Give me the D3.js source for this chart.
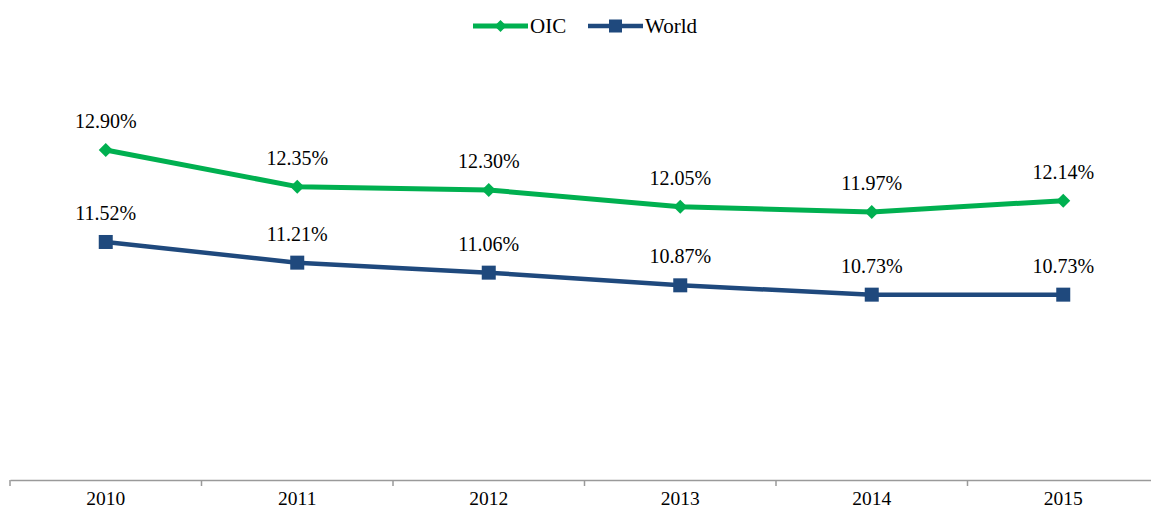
<!DOCTYPE html>
<html><head><meta charset="utf-8">
<script src="https://cdn.jsdelivr.net/npm/d3@7"></script>
<style>body{margin:0;background:#fff}svg{display:block}</style>
</head><body>
<svg id="c" width="1151" height="510"></svg>
<script>
const years = ["2010","2011","2012","2013","2014","2015"];
const oic = [12.90, 12.35, 12.30, 12.05, 11.97, 12.14];
const world = [11.52, 11.21, 11.06, 10.87, 10.73, 10.73];
const seriesNames = ["OIC","World"];

const svg = d3.select("#c");
const font = "'Liberation Serif', 'Times New Roman', serif";
const x = d3.scaleBand().domain(years).range([10, 1159]);
const y = d3.scaleLinear().domain([7.935, 14.5]).range([481, 43.3]);
const cx = d => x(d) + x.bandwidth()/2;

// axis
const ax = svg.append("g").attr("transform","translate(0,480)")
  .call(d3.axisBottom(x).tickSize(0).tickPadding(0).tickFormat(""));
ax.select(".domain").attr("stroke","#9a9a9a").attr("stroke-width",1.5);
ax.selectAll(".tick").remove();
const bounds = years.map(yr => x(yr)).concat([x(years[years.length-1]) + x.bandwidth()]);
ax.selectAll("line.tk").data(bounds).enter().append("line")
  .attr("x1",d=>d).attr("x2",d=>d).attr("y1",0).attr("y2",6)
  .attr("stroke","#9a9a9a").attr("stroke-width",1.5);
svg.selectAll("text.yr").data(years).enter().append("text")
  .attr("x", d=>cx(d)).attr("y", 505).attr("text-anchor","middle")
  .style("font-family",font).attr("font-size",19.5).attr("fill","#000").text(d=>d);

const series = [
  {name: seriesNames[0], vals: oic, color:"#00b050", w:5, shape:"diamond"},
  {name: seriesNames[1], vals: world, color:"#1f497d", w:4.5, shape:"square"}
];
const line = d3.line().x((d,i)=>cx(years[i])).y(d=>y(d));
series.forEach(s=>{
  svg.append("path").datum(s.vals).attr("d",line).attr("fill","none")
    .attr("stroke",s.color).attr("stroke-width",s.w).attr("stroke-linejoin","round");
  const g = svg.append("g");
  s.vals.forEach((v,i)=>{
    const px = cx(years[i]), py = y(v);
    if (s.shape==="diamond") {
      g.append("path").attr("d","M0,-7L7,0L0,7L-7,0Z")
        .attr("transform",`translate(${px},${py})`).attr("fill",s.color);
    } else {
      g.append("rect").attr("x",px-7).attr("y",py-7).attr("width",14).attr("height",14).attr("fill",s.color);
    }
  });
  svg.selectAll(null).data(s.vals).enter().append("text")
    .attr("x",(d,i)=>cx(years[i])).attr("y",d=>y(d)-22).attr("text-anchor","middle")
    .style("font-family",font).attr("font-size",20).attr("fill","#000")
    .text(d=>d.toFixed(2)+"%");
});

// legend
const leg = [{s:series[0], x1:473, x2:528, tx:530},{s:series[1], x1:588, x2:643, tx:645}];
leg.forEach(l=>{
  svg.append("line").attr("x1",l.x1).attr("x2",l.x2).attr("y1",26).attr("y2",26)
    .attr("stroke",l.s.color).attr("stroke-width",l.s.w);
  const mx=(l.x1+l.x2)/2;
  if (l.s.shape==="diamond") svg.append("path").attr("d","M0,-6L6,0L0,6L-6,0Z").attr("transform",`translate(${mx},26)`).attr("fill",l.s.color);
  else svg.append("rect").attr("x",mx-6.5).attr("y",19.5).attr("width",13).attr("height",13).attr("fill",l.s.color);
  svg.append("text").attr("x",l.tx).attr("y",33).style("font-family",font).attr("font-size",21)
    .attr("fill","#000").text(l.s.name);
});
</script>
</body></html>
